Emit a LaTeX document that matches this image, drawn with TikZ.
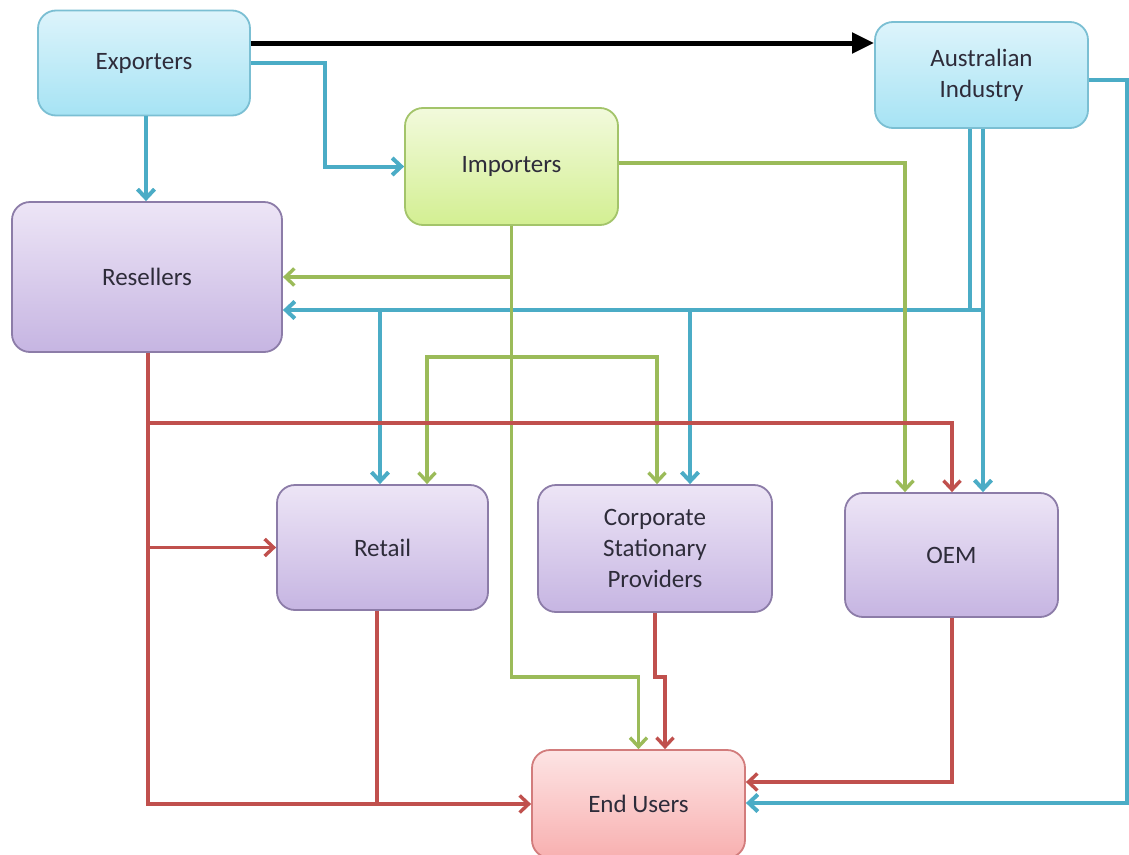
\documentclass[tikz,border=0pt]{standalone}
\usepackage{fontspec}
\setmainfont{Carlito}
\usetikzlibrary{arrows.meta}
\definecolor{cblue}{HTML}{4BACC6}
\definecolor{cgreen}{HTML}{9BBB59}
\definecolor{cred}{HTML}{C0504D}
\definecolor{txt}{HTML}{2E2C3A}
\definecolor{bTop}{HTML}{DDF4FB}
\definecolor{bBot}{HTML}{A6E3F4}
\definecolor{bBrd}{HTML}{7BBFD3}
\definecolor{gTop}{HTML}{F2FADC}
\definecolor{gBot}{HTML}{D3EF92}
\definecolor{gBrd}{HTML}{A3C46A}
\definecolor{pTop}{HTML}{EDE5F6}
\definecolor{pBot}{HTML}{C6B5E2}
\definecolor{pBrd}{HTML}{8C7CA8}
\definecolor{rTop}{HTML}{FDE4E4}
\definecolor{rBot}{HTML}{F8B0B0}
\definecolor{rBrd}{HTML}{D27C7C}
\tikzset{
  box/.style={rectangle, rounded corners=18pt, line width=1.8pt, inner sep=2pt, align=center,
    font=\fontsize{25}{31}\selectfont, text=txt},
  bluebox/.style={box, draw=bBrd, top color=bTop, bottom color=bBot},
  greenbox/.style={box, draw=gBrd, top color=gTop, bottom color=gBot},
  purplebox/.style={box, draw=pBrd, top color=pTop, bottom color=pBot},
  redbox/.style={box, draw=rBrd, top color=rTop, bottom color=rBot},
  tip/.style={-{Straight Barb[length=9pt,width=17pt]}},
  bl/.style={draw=cblue, line width=4pt},
  gl/.style={draw=cgreen, line width=3.4pt},
  rl/.style={draw=cred, line width=3.4pt},
  blk/.style={draw=black, line width=5pt, -{Triangle[length=22pt,width=20pt]}},
}
\begin{document}
\begin{tikzpicture}[x=1pt,y=-1pt]
\useasboundingbox (0,0) rectangle (1129,854);
% nodes
\node[bluebox, minimum width=212pt, minimum height=105pt] (exp) at (144,63) {Exporters};
\node[bluebox, minimum width=213pt, minimum height=106pt] (aus) at (981.5,75) {Australian\\Industry};
\node[greenbox, minimum width=213pt, minimum height=117pt] (imp) at (511.5,166.5) {Importers};
\node[purplebox, minimum width=270pt, minimum height=150pt] (res) at (147,277) {Resellers};
\node[purplebox, minimum width=211pt, minimum height=125pt] (ret) at (382.5,547.5) {Retail};
\node[purplebox, minimum width=234pt, minimum height=127pt] (corp) at (655,548.5) {Corporate\\Stationary\\Providers};
\node[purplebox, minimum width=213pt, minimum height=124pt] (oem) at (951.5,555) {OEM};
\node[redbox, minimum width=213pt, minimum height=108pt] (end) at (638.5,804) {End Users};
% junction coordinates
\coordinate (bj) at (983,310);
\coordinate (gj) at (511.5,357);
\coordinate (gk) at (511.5,677);
\coordinate (rj) at (148,423);
% black arrow
\draw[blk] ([yshift=20pt]exp.east) -- ([yshift=20pt]exp.east -| aus.west);
% blue connectors
\draw[bl,tip] (exp.east) -- (325,63) |- (imp.west);
\draw[bl,tip] (146,115.5) -- (res.north -| 146,0);
\draw[bl,tip] ([yshift=-5pt]aus.east) -- (1127,80) |- ([yshift=1pt]end.east);
\draw[bl] ([xshift=-11.5pt]aus.south) -- (970,310);
\draw[bl,tip] ([xshift=1.5pt]aus.south) -- ([xshift=31.5pt]oem.north);
\draw[bl,tip] (bj) -- ([yshift=-33pt]res.east);
\draw[bl,tip] (380,310) -- ([xshift=-2.5pt]ret.north);
\draw[bl,tip] (690,310) -- ([xshift=35pt]corp.north);
% green connectors
\draw[gl,tip] ([yshift=3.5pt]imp.east) -- (905,163) -- ([xshift=-46.5pt]oem.north);
\draw[gl,tip] (imp.south) -- (gk) -| (end.north);
\draw[gl,tip] (511.5,277) -- (res.east);
\draw[gl,tip] (gj) -- (427,357) -- ([xshift=44.5pt]ret.north);
\draw[gl,tip] (gj) -- (657,357) -- ([xshift=2pt]corp.north);
% red connectors
\draw[rl,tip] (res.south -| rj) -- (148,804) -- (end.west);
\draw[rl,tip] (rj) -- (952,423) -- ([xshift=0.5pt]oem.north);
\draw[rl,tip] (148,547.5) -- (ret.west);
\draw[rl] ([xshift=-5.5pt]ret.south) -- (377,804);
\draw[rl,tip] (corp.south) -- (655,677) -- (665,677) -- ([xshift=26.5pt]end.north);
\draw[rl,tip] ([xshift=0.5pt]oem.south) -- (952,782) -- ([yshift=22pt]end.east);
\end{tikzpicture}
\end{document}
